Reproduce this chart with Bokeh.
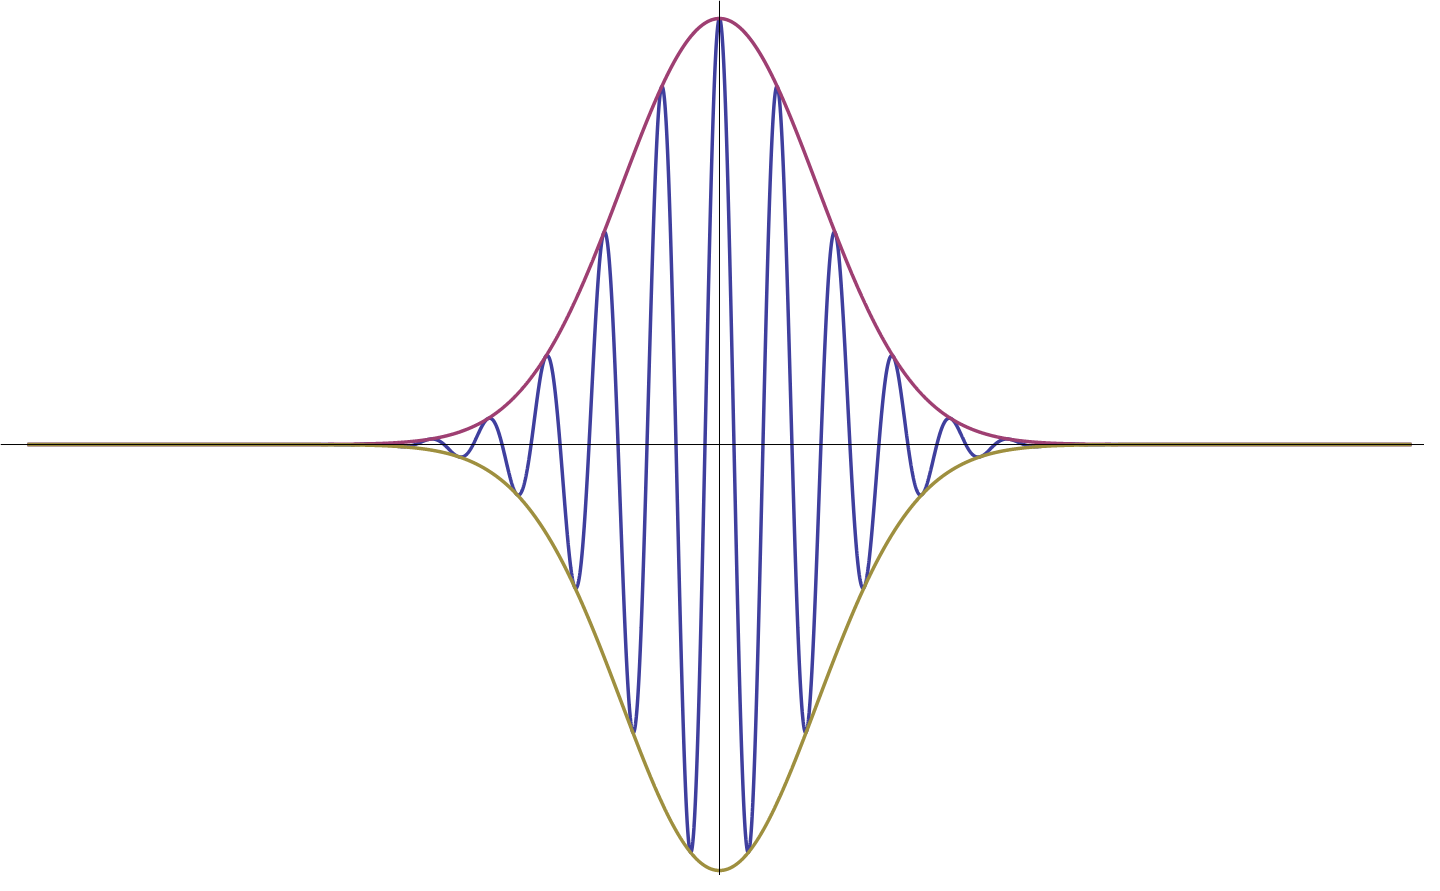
import numpy as np
from bokeh.plotting import figure
from bokeh.models import Span, Range1d
from bokeh.embed import file_html
from bokeh.resources import INLINE

# Parameters of the plotted curves
X_MIN, X_MAX = -5.0, 5.0          # plotted domain
WAVE_NUMBER = 15.0                # carrier: cos(15 x)
GAUSS_COEF = 1.0                  # envelope: exp(-x^2)
N_SAMPLES = 6000

x = np.linspace(X_MIN, X_MAX, N_SAMPLES)
envelope_upper = np.exp(-GAUSS_COEF * x ** 2)
envelope_lower = -envelope_upper
packet = envelope_upper * np.cos(WAVE_NUMBER * x)

BLUE = "#3f3f9e"
MAGENTA = "#9e3f72"
OLIVE = "#9e8f3f"

W, H = 1424, 875
p = figure(width=W, height=H, output_backend="svg", toolbar_location=None,
           x_axis_location=None, y_axis_location=None, min_border=0)
p.x_range = Range1d(-5.195, 5.094)
p.y_range = Range1d(-1.0117, 1.0423)
p.grid.visible = False
p.outline_line_color = None
p.background_fill_color = "white"
p.border_fill_color = "white"

p.line(x, packet, line_color=BLUE, line_width=3.5)
p.line(x, envelope_upper, line_color=MAGENTA, line_width=3.5)
p.line(x, envelope_lower, line_color=OLIVE, line_width=3.5)

p.add_layout(Span(location=0, dimension="width", line_color="black", line_width=1))
p.add_layout(Span(location=0, dimension="height", line_color="black", line_width=1))

open("out.html", "w").write(file_html(p, INLINE))
